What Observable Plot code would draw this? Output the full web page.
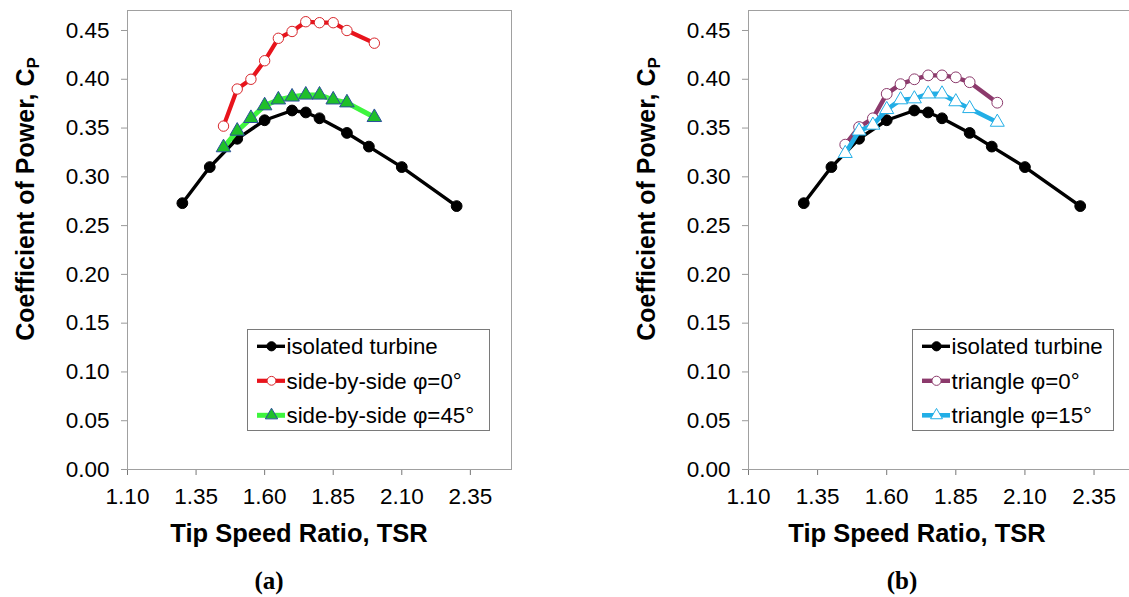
<!DOCTYPE html>
<html><head><meta charset="utf-8">
<script src="https://cdn.jsdelivr.net/npm/d3@7"></script>
<script src="https://cdn.jsdelivr.net/npm/@observablehq/plot@0.6"></script>
<style>
html,body{margin:0;padding:0;background:#fff;}
#wrap{position:relative;width:1129px;height:597px;overflow:hidden;background:#fff;}
.panel{position:absolute;top:0;}
</style></head><body><div id="wrap"></div>
<script>
// ---- data ----
const tsrIsolated = [1.30, 1.40, 1.50, 1.60, 1.70, 1.75, 1.80, 1.90, 1.98, 2.10, 2.30];
const cpIsolated  = [0.273, 0.310, 0.339, 0.358, 0.368, 0.366, 0.360, 0.345, 0.331, 0.310, 0.270];
const tsrArray    = [1.45, 1.50, 1.55, 1.60, 1.65, 1.70, 1.75, 1.80, 1.85, 1.90, 2.00];
const cpSideBySide0  = [0.352, 0.390, 0.400, 0.419, 0.442, 0.449, 0.459, 0.458, 0.458, 0.450, 0.437];
const cpSideBySide45 = [0.330, 0.347, 0.360, 0.373, 0.379, 0.382, 0.384, 0.384, 0.379, 0.376, 0.361];
const cpTriangle0    = [0.333, 0.351, 0.360, 0.385, 0.395, 0.400, 0.404, 0.404, 0.402, 0.397, 0.376];
const cpTriangle15   = [0.324, 0.347, 0.353, 0.369, 0.379, 0.380, 0.385, 0.385, 0.377, 0.370, 0.356];
const xTicks = [1.10, 1.35, 1.60, 1.85, 2.10, 2.35];
const yTicks = [0.00, 0.05, 0.10, 0.15, 0.20, 0.25, 0.30, 0.35, 0.40, 0.45];
const namesA = ["isolated turbine", "side-by-side φ=0°", "side-by-side φ=45°"];
const namesB = ["isolated turbine", "triangle φ=0°", "triangle φ=15°"];
const xTitle = "Tip Speed Ratio, TSR";
const yTitle = "Coefficient of Power, C";
const yTitleSub = "P";
const captions = ["(a)", "(b)"];

// ---- styles ----
const styles = {
  iso:   {stroke: "#000000", width: 3.4, symbol: "circle",   r: 5.4, fill: "#000000", mstroke: "#000000"},
  sbs0:  {stroke: "#e8141c", width: 4.2, symbol: "circle",   r: 5.2, fill: "#ffffff", mstroke: "#d8262b"},
  sbs45: {stroke: "#3ef53e", width: 5,   symbol: "triangle", r: 5.4, fill: "#1fbf2a", mstroke: "#2b4f9c"},
  tri0:  {stroke: "#8c3a6c", width: 4.4, symbol: "circle",   r: 5.4, fill: "#ffffff", mstroke: "#8c3a6c"},
  tri15: {stroke: "#22aee6", width: 4.6, symbol: "triangle", r: 5.2, fill: "#ffffff", mstroke: "#22aee6"}
};

const panels = [
  {left: 0, ml: 127, mr: 49, boxW: 242, series: [
      {name: namesA[0], x: tsrIsolated, y: cpIsolated, st: styles.iso},
      {name: namesA[1], x: tsrArray, y: cpSideBySide0, st: styles.sbs0},
      {name: namesA[2], x: tsrArray, y: cpSideBySide45, st: styles.sbs45}],
    yTitleX: 34, xTitleX: 299, capX: 269, caption: captions[0]},
  {left: 620, ml: 128, mr: 45, boxW: 201, series: [
      {name: namesB[0], x: tsrIsolated, y: cpIsolated, st: styles.iso},
      {name: namesB[1], x: tsrArray, y: cpTriangle0, st: styles.tri0},
      {name: namesB[2], x: tsrArray, y: cpTriangle15, st: styles.tri15}],
    yTitleX: 35, xTitleX: 297, capX: 282, caption: captions[1]}
];

const W = 560, H = 597, MT = 10, MB = 128;
const font = "'Liberation Sans', Arial, sans-serif";

for (const p of panels) {
  const marks = [Plot.frame({stroke: "#a0a0a0"})];
  for (const s of p.series) {
    const data = s.x.map((x, i) => ({x, y: s.y[i]}));
    marks.push(Plot.line(data, {x: "x", y: "y", stroke: s.st.stroke, strokeWidth: s.st.width, strokeLinejoin: "round"}));
    marks.push(Plot.dot(data, {x: "x", y: "y", symbol: s.st.symbol, r: s.st.r, fill: s.st.fill, stroke: s.st.mstroke, strokeWidth: 1}));
  }
  marks.unshift(
    Plot.axisX(xTicks, {tickFormat: d3.format(".2f"), tickSize: 6, tickPadding: 13, stroke: "#777", fill: "#000", label: null, fontSize: 22.5}),
    Plot.axisY(yTicks, {tickFormat: d3.format(".2f"), tickSize: 6, tickPadding: 12, stroke: "#999", fill: "#000", label: null, fontSize: 22.5}),
    Plot.ruleX([xTicks[0]], {stroke: "#555"}),
    Plot.ruleY([yTicks[0]], {stroke: "#555"})
  );
  const chart = Plot.plot({
    width: W, height: H, marginLeft: p.ml, marginRight: p.mr, marginTop: MT, marginBottom: MB,
    x: {domain: [1.10, 2.50]},
    y: {domain: [0, 0.4705]},
    style: {fontFamily: font, fontSize: "22px", background: "transparent", overflow: "visible"},
    marks
  });
  chart.classList.add("panel");
  chart.style.left = p.left + "px";
  document.getElementById("wrap").appendChild(chart);

  const svg = d3.select(chart);
  // legend
  const plotRight = W - p.mr;
  const g = svg.append("g").attr("text-anchor", "start");
  const rows = p.series;
  const boxTop = 329.5, rowGap = 34.5, firstRow = 16.8;
  const x0 = plotRight - 22 - p.boxW;
  g.append("rect").attr("x", x0 + 0.5).attr("y", boxTop).attr("width", p.boxW).attr("height", 101)
    .attr("fill", "#fff").attr("stroke", "#7a7a7a").attr("stroke-width", 1);
  rows.forEach((s, i) => {
    const yy = boxTop + firstRow + i * rowGap;
    g.append("line").attr("x1", x0 + 10).attr("x2", x0 + 38).attr("y1", yy).attr("y2", yy)
      .attr("stroke", s.st.stroke).attr("stroke-width", s.st.width);
    const sym = s.st.symbol === "triangle" ? d3.symbolTriangle : d3.symbolCircle;
    const rr = s.st.r * 0.85;
    g.append("path").attr("d", d3.symbol(sym, Math.PI * rr * rr)())
      .attr("transform", `translate(${x0 + 24.5},${yy})`)
      .attr("fill", s.st.fill).attr("stroke", s.st.mstroke).attr("stroke-width", 1);
    g.append("text").text(s.name).attr("x", x0 + 39.5).attr("y", yy).attr("dy", "0.36em")
      .attr("text-anchor", "start")
      .attr("font-family", font).attr("font-size", 22.3).attr("fill", "#000");
  });
  // axis titles
  const yt = svg.append("text").attr("transform", `translate(${p.yTitleX},${199}) rotate(-90)`)
    .attr("text-anchor", "middle").attr("font-family", font).attr("font-weight", "bold").attr("font-size", 25).attr("fill", "#000");
  yt.append("tspan").text(yTitle);
  yt.append("tspan").text(yTitleSub).attr("font-size", 17).attr("dy", "0.3em");
  svg.append("text").text(xTitle).attr("x", p.xTitleX).attr("y", 542).attr("text-anchor", "middle")
    .attr("font-family", font).attr("font-weight", "bold").attr("font-size", 25.5).attr("fill", "#000");
  svg.append("text").text(p.caption).attr("x", p.capX).attr("y", 589).attr("text-anchor", "middle")
    .attr("font-family", "'Liberation Serif', 'Times New Roman', serif").attr("font-weight", "bold").attr("font-size", 25).attr("fill", "#000");
}
</script></body></html>
